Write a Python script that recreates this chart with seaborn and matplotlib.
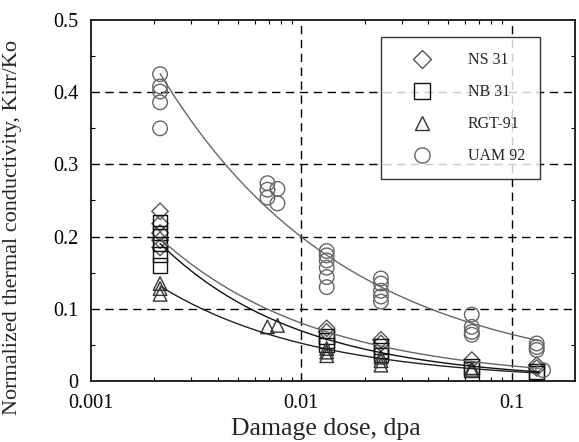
import numpy as np
import pandas as pd
import matplotlib
matplotlib.use("Agg")
import matplotlib.pyplot as plt
from matplotlib.lines import Line2D
from matplotlib.ticker import FixedLocator, NullFormatter, MultipleLocator
import seaborn as sns

# ---------------- data ----------------
series_names = ["NS 31", "NB 31", "RGT-91", "UAM 92"]

ns31_dose = [0.00213, 0.00213, 0.00213, 0.00213, 0.00213, 0.0132, 0.0132, 0.0239, 0.0239, 0.0646, 0.1315, 0.1315]
ns31_k    = [0.235, 0.218, 0.205, 0.195, 0.185, 0.073, 0.068, 0.057, 0.052, 0.029, 0.022, 0.018]

nb31_dose = [0.00213, 0.00213, 0.00213, 0.00213, 0.00213, 0.0132, 0.0132, 0.0132, 0.0239, 0.0239, 0.0239, 0.0646, 0.0646, 0.1315, 0.1315]
nb31_k    = [0.220, 0.205, 0.190, 0.175, 0.160, 0.062, 0.056, 0.050, 0.048, 0.042, 0.036, 0.020, 0.016, 0.013, 0.011]

rgt91_dose = [0.00213, 0.00213, 0.00213, 0.0069, 0.0077, 0.0132, 0.0132, 0.0132, 0.0239, 0.0239, 0.0239, 0.0646, 0.0646]
rgt91_k    = [0.135, 0.128, 0.120, 0.075, 0.077, 0.045, 0.040, 0.035, 0.033, 0.028, 0.022, 0.018, 0.015]

uam92_dose = [0.00213, 0.00213, 0.00213, 0.00213, 0.00213, 0.0069, 0.0069, 0.0069, 0.0077, 0.0077,
              0.0132, 0.0132, 0.0132, 0.0132, 0.0132, 0.0132,
              0.0239, 0.0239, 0.0239, 0.0239, 0.0239,
              0.0646, 0.0646, 0.0646, 0.0646, 0.1315, 0.1315, 0.1315, 0.141]
uam92_k    = [0.425, 0.408, 0.401, 0.386, 0.350, 0.274, 0.265, 0.254, 0.266, 0.246,
              0.180, 0.174, 0.167, 0.157, 0.144, 0.130,
              0.142, 0.135, 0.125, 0.117, 0.110,
              0.092, 0.075, 0.068, 0.064, 0.052, 0.047, 0.043, 0.015]

# power-law trend lines K = a * dose^(-n), parameters
fit_a = [0.00547, 0.00343, 0.00334, 0.0209]
fit_n = [0.583, 0.653, 0.597, 0.490]
fit_range = [0.00213, 0.135]

x_ticks = [0.001, 0.01, 0.1]
x_tick_labels = ["0.001", "0.01", "0.1"]
y_ticks = [0, 0.1, 0.2, 0.3, 0.4, 0.5]
y_tick_labels = ["0", "0.1", "0.2", "0.3", "0.4", "0.5"]

# ---------------- style ----------------
sns.set_theme(style="ticks")
plt.rcParams["font.family"] = ["Liberation Serif", "DejaVu Serif"]

markers = ["D", "s", "^", "o"]
marker_sizes = [70, 110, 95, 110]
edge_colors = ["#555555", "#111111", "#333333", "#666666"]
curve_colors = ["#666666", "#111111", "#222222", "#666666"]

fig = plt.figure(figsize=(5.79, 4.42), dpi=100)
ax = fig.add_axes([91 / 579, 61 / 442, 484 / 579, 361 / 442])

# grid (dashed) drawn first
for gx in [0.01, 0.1]:
    ax.axvline(gx, color="black", lw=1.0, ls=(0, (6, 4)), zorder=1)
for gy in [0.1, 0.2, 0.3, 0.4]:
    ax.axhline(gy, color="black", lw=1.0, ls=(0, (6, 4)), zorder=1)

doses = [ns31_dose, nb31_dose, rgt91_dose, uam92_dose]
ks = [ns31_k, nb31_k, rgt91_k, uam92_k]

for i, name in enumerate(series_names):
    df = pd.DataFrame({"dose": doses[i], "k": ks[i]})
    sns.scatterplot(data=df, x="dose", y="k", marker=markers[i], s=marker_sizes[i],
                    facecolor="none", edgecolor=edge_colors[i], linewidth=1.0,
                    ax=ax, zorder=3, legend=False)

for i, name in enumerate(series_names):
    xs = np.geomspace(fit_range[0], fit_range[1], 200)
    fdf = pd.DataFrame({"dose": xs, "k": fit_a[i] * xs ** (-fit_n[i])})
    sns.lineplot(data=fdf, x="dose", y="k", color=curve_colors[i], lw=1.0, ax=ax, zorder=4)

ax.set_xscale("log")
ax.set_xlim(0.001, 0.2)
ax.set_ylim(0, 0.5)
ax.xaxis.set_major_locator(FixedLocator(x_ticks))
ax.set_xticklabels(x_tick_labels)
ax.xaxis.set_minor_locator(FixedLocator([m * 10.0 ** e for e in (-3, -2, -1) for m in range(2, 10) if m * 10.0 ** e < 0.2]))
ax.xaxis.set_minor_formatter(NullFormatter())
ax.set_yticks(y_ticks)
ax.set_yticklabels(y_tick_labels)
ax.yaxis.set_minor_locator(MultipleLocator(0.05))

ax.tick_params(which="both", direction="in", top=True, right=True, colors="black",
               labelsize=14.5, width=0.8)
ax.tick_params(which="major", length=0, pad=9)
ax.tick_params(which="minor", length=3)
for sp in ax.spines.values():
    sp.set_color("black")
    sp.set_linewidth(1.2)

ax.set_xlabel("Damage dose, dpa", fontsize=18.5)
ax.xaxis.set_label_coords(0.486, -0.103)
ax.set_ylabel("Normalized thermal conductivity, Kirr/Ko", fontsize=16)
ax.yaxis.set_label_coords(-0.143, 0.424)

handles = [Line2D([], [], ls="none", marker=markers[i], markersize=[9, 11, 10, 11][i],
                  markerfacecolor="none", markeredgecolor=edge_colors[i], markeredgewidth=1.0)
           for i in range(4)]
leg = ax.legend(handles, series_names, loc="upper left", bbox_to_anchor=(290 / 484, 1 - 17 / 361),
                frameon=True, fancybox=False, edgecolor="black", fontsize=11.5,
                borderpad=0.95, labelspacing=1.0, handletextpad=1.3, borderaxespad=0,
                handlelength=3.2)
leg.get_frame().set_linewidth(1.0)
leg.set_zorder(6)

fig.savefig("out.png", dpi=100)
